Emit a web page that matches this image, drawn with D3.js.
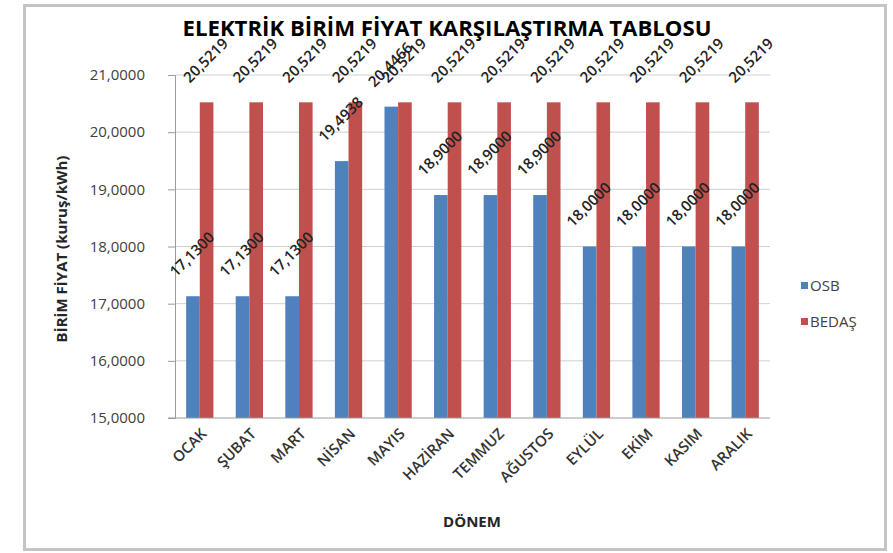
<!DOCTYPE html>
<html>
<head>
<meta charset="utf-8">
<script src="https://cdn.jsdelivr.net/npm/d3@7"></script>
<style>
  body { margin: 0; background: #fff; }
  text { font-family: "Open Sans", sans-serif; }
</style>
</head>
<body>
<div id="chart"></div>
<script>
var months = ['OCAK', 'ŞUBAT', 'MART', 'NİSAN', 'MAYIS', 'HAZİRAN', 'TEMMUZ', 'AĞUSTOS', 'EYLÜL', 'EKİM', 'KASIM', 'ARALIK'];
var seriesNames = ['OSB', 'BEDAŞ'];
var osb = [17.13, 17.13, 17.13, 19.4938, 20.4466, 18.9, 18.9, 18.9, 18.0, 18.0, 18.0, 18.0];
var bedas = [20.5219, 20.5219, 20.5219, 20.5219, 20.5219, 20.5219, 20.5219, 20.5219, 20.5219, 20.5219, 20.5219, 20.5219];
var yTicks = [15, 16, 17, 18, 19, 20, 21];
var colors = ['#4f81bd', '#c0504d'];

var width = 893, height = 553;
var plotLeft = 175, plotRight = 770, plotTop = 75, plotBottom = 418;

var tr = d3.formatLocale({decimal: ',', thousands: '.', grouping: [3], currency: ['', ' TL']});
var fmt = tr.format('.4f');

var svg = d3.select('#chart')
  .append('svg')
  .attr('width', width)
  .attr('height', height);

// outer frame
svg.append('rect')
  .attr('x', 24.5)
  .attr('y', 5.5)
  .attr('width', 861)
  .attr('height', 544)
  .attr('fill', '#fff')
  .attr('stroke', '#c4c4c4')
  .attr('stroke-width', 3);

var x0 = d3.scaleBand()
  .domain(months)
  .range([plotLeft, plotRight])
  .paddingInner(0.45)
  .paddingOuter(0.225);

var x1 = d3.scaleBand()
  .domain(seriesNames)
  .range([0, x0.bandwidth()]);

var y = d3.scaleLinear()
  .domain([15, 21])
  .range([plotBottom, plotTop]);

// grid
svg.append('g')
  .selectAll('line')
  .data(yTicks.slice(1))
  .enter().append('line')
  .attr('x1', plotLeft)
  .attr('x2', plotRight)
  .attr('y1', function(d){ return y(d); })
  .attr('y2', function(d){ return y(d); })
  .attr('stroke', '#d0d0d0')
  .attr('stroke-width', 1);

// y axis
var yAxis = svg.append('g')
  .attr('transform', 'translate(' + plotLeft + ',0)')
  .call(d3.axisLeft(y).tickValues(yTicks).tickFormat(fmt).tickSize(7).tickPadding(23));
yAxis.select('.domain').attr('stroke', '#9a9a9a');
yAxis.selectAll('.tick line').attr('stroke', '#9a9a9a');
yAxis.selectAll('.tick text')
  .attr('fill', '#404040')
  .style('font-size', '15px')
  .style('font-family', '"Open Sans", sans-serif');

// bars
var rows = months.map(function(m, i){ return {month: m, values: [osb[i], bedas[i]]}; });

var groups = svg.append('g')
  .selectAll('g')
  .data(rows)
  .enter().append('g')
  .attr('transform', function(d){ return 'translate(' + x0(d.month) + ',0)'; });

groups.selectAll('rect')
  .data(function(d){ return d.values.map(function(v, j){ return {name: seriesNames[j], value: v, j: j}; }); })
  .enter().append('rect')
  .attr('x', function(d){ return x1(d.name); })
  .attr('width', x1.bandwidth())
  .attr('y', function(d){ return y(d.value); })
  .attr('height', function(d){ return y(15) - y(d.value); })
  .attr('fill', function(d){ return colors[d.j]; });

groups.selectAll('text')
  .data(function(d){ return d.values.map(function(v, j){ return {name: seriesNames[j], value: v}; }); })
  .enter().append('text')
  .attr('transform', function(d){
    var cx = x1(d.name) + x1.bandwidth() / 2 - 1;
    return 'translate(' + cx + ',' + (y(d.value) - 42) + ') rotate(-45)';
  })
  .attr('text-anchor', 'middle')
  .attr('dy', '0.35em')
  .attr('fill', '#222')
  .style('font-size', '15px')
  .style('font-weight', 600)
  .text(function(d){ return fmt(d.value); });

// x axis
svg.append('line')
  .attr('x1', plotLeft - 7)
  .attr('x2', plotRight)
  .attr('y1', plotBottom)
  .attr('y2', plotBottom)
  .attr('stroke', '#9a9a9a');

svg.append('g')
  .selectAll('text')
  .data(months)
  .enter().append('text')
  .attr('transform', function(d){ return 'translate(' + (x0(d) + x0.bandwidth() / 2 + 4) + ',' + (plotBottom + 13) + ') rotate(-45)'; })
  .attr('text-anchor', 'end')
  .attr('dy', '0.35em')
  .attr('fill', '#333')
  .style('font-size', '15px')
  .style('font-weight', 600)
  .text(function(d){ return d; });

// titles
svg.append('text')
  .attr('x', 447)
  .attr('y', 36)
  .attr('text-anchor', 'middle')
  .attr('textLength', 529)
  .attr('lengthAdjust', 'spacingAndGlyphs')
  .attr('fill', '#000')
  .style('font-size', '21px')
  .style('font-weight', 'bold')
  .text('ELEKTRİK BİRİM FİYAT KARŞILAŞTIRMA TABLOSU');

svg.append('text')
  .attr('transform', 'translate(67,249) rotate(-90)')
  .attr('text-anchor', 'middle')
  .attr('fill', '#262626')
  .style('font-size', '15px')
  .style('font-weight', 'bold')
  .text('BİRİM FİYAT (kuruş/kWh)');

svg.append('text')
  .attr('x', 472)
  .attr('y', 527)
  .attr('text-anchor', 'middle')
  .attr('fill', '#262626')
  .style('font-size', '15px')
  .style('font-weight', 'bold')
  .text('DÖNEM');

// legend
var legend = svg.append('g')
  .selectAll('g')
  .data(seriesNames)
  .enter().append('g')
  .attr('transform', function(d, i){ return 'translate(801,' + (286 + i * 36) + ')'; });

legend.append('rect')
  .attr('x', 0)
  .attr('y', -4)
  .attr('width', 7)
  .attr('height', 7)
  .attr('fill', function(d, i){ return colors[i]; });

legend.append('text')
  .attr('x', 9)
  .attr('dy', '0.35em')
  .attr('fill', '#404040')
  .style('font-size', '15px')
  .text(function(d){ return d; });
</script>
</body>
</html>
